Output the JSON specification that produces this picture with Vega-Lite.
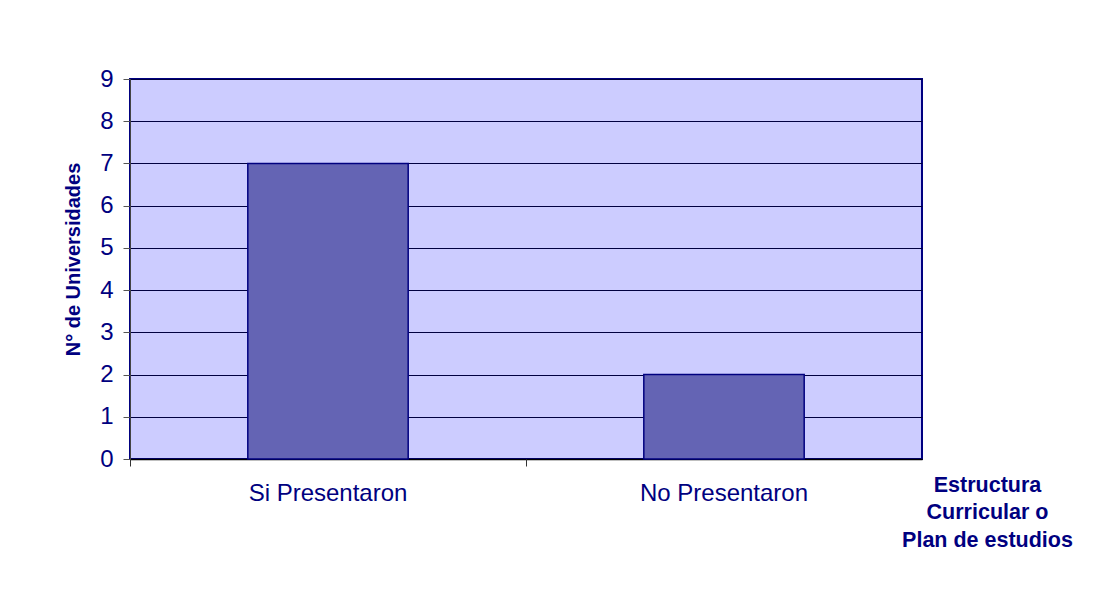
{
  "$schema": "https://vega.github.io/schema/vega-lite/v6.json",
  "width": 792,
  "height": 380,
  "autosize": "none",
  "padding": {"left": 130, "top": 79, "right": 175, "bottom": 133},
  "background": "white",
  "data": {"values": [
    {"categoria": "Si Presentaron", "universidades": 7},
    {"categoria": "No Presentaron", "universidades": 2}
  ]},
  "config": {
    "font": "Liberation Sans",
    "view": {"fill": "#CCCCFF", "stroke": "#000080", "strokeWidth": 2},
    "axisY": {"labelFontSize": 24, "titleFontSize": 20},
    "axisX": {"labelFontSize": 24, "titleFontSize": 21.5}
  },
  "resolve": {"axis": {"x": "independent", "y": "independent"}},
  "layer": [
    {
      "mark": {"type": "bar", "width": {"band": 0.405}, "fill": "#6464B4", "stroke": "#000080", "strokeWidth": 1.5},
      "encoding": {
        "x": {
          "field": "categoria", "type": "nominal", "sort": null,
          "scale": {"paddingInner": 0, "paddingOuter": 0},
          "axis": {
            "labelAngle": 0, "labelFontSize": 24, "labelColor": "#000080", "labelPadding": 22,
            "ticks": false, "domainColor": "#000000", "domainWidth": 1.5,
            "title": ["Estructura", "Curricular o", "Plan de estudios"],
            "titleFontSize": 21.5, "titleFontWeight": "bold", "titleColor": "#000080",
            "titleX": 857, "titleY": 32, "titleAlign": "center", "titleBaseline": "alphabetic",
            "titleLineHeight": 27.5
          }
        },
        "y": {
          "field": "universidades", "type": "quantitative",
          "scale": {"domain": [0, 9], "nice": false},
          "axis": {
            "values": [0, 1, 2, 3, 4, 5, 6, 7, 8, 9], "labelFontSize": 24, "labelColor": "#000080",
            "labelPadding": 10, "tickSize": 7, "tickColor": "#555555", "domainColor": "#444444",
            "grid": true, "gridColor": "#000040", "gridWidth": 1,
            "title": "N° de Universidades", "titleFontSize": 20, "titleFontWeight": "bold",
            "titleColor": "#000080", "titleX": -57, "titleY": 180, "titleAngle": -90,
            "titleAlign": "center", "titleBaseline": "middle"
          }
        }
      }
    },
    {
      "mark": {"type": "bar", "opacity": 0},
      "encoding": {
        "x": {
          "field": "categoria", "type": "nominal", "sort": null,
          "axis": {
            "orient": "bottom", "bandPosition": 0, "labels": false, "domain": false,
            "tickSize": 7, "tickColor": "#333333", "title": null, "grid": false
          }
        },
        "y": {"field": "universidades", "type": "quantitative", "axis": null}
      }
    }
  ]
}
